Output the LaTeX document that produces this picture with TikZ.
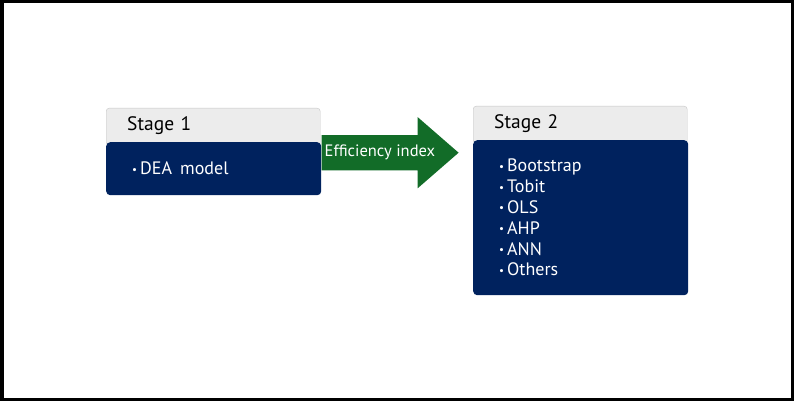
\documentclass[tikz,border=0pt]{standalone}
\usepackage{fontspec}
\setmainfont{PT Sans}
\usetikzlibrary{shapes.arrows}
\definecolor{navy}{RGB}{0,34,94}
\definecolor{headgray}{RGB}{236,236,236}
\definecolor{arrowgreen}{RGB}{18,108,40}
\newcommand{\itm}{{\fontsize{11}{11}\selectfont\raisebox{0.3ex}{\textbullet}}\,}

\begin{document}
\begin{tikzpicture}[x=1pt,y=-1pt,
	head/.style={draw=gray!45, fill=headgray, rounded corners=3pt, anchor=north west,
		minimum width=214pt, minimum height=37pt, inner xsep=21pt, text width=172pt,
		align=left, font=\fontsize{19.5}{20}\selectfont, text depth=6pt},
	body/.style={fill=navy, rounded corners=4pt, anchor=north west, text=white,
		minimum width=215pt, inner xsep=26pt, text width=163pt, align=left,
		font=\fontsize{18}{20.8}\selectfont},
	bigarrow/.style={single arrow, fill=arrowgreen, text=white, single arrow head extend=18pt,
		single arrow tip angle=82, minimum height=137pt, minimum width=71pt,
		inner xsep=2pt, inner ysep=0pt, text height=12pt, text depth=4pt,
		font=\fontsize{16.5}{18}\selectfont, anchor=tail}]
	\useasboundingbox (0,0) rectangle (794,401);
	\draw[line width=3.5pt] (1.75,1.75) rectangle (792.25,399.25);

	% stage 1
	\node[head] (h1) at (106,108) {Stage 1};
	\node[body, minimum height=53pt] (b1) at (106,142) {\itm DEA\hspace{0.45em}model};

	% stage 2
	\node[head] (h2) at (473,106) {Stage 2};
	\node[body, minimum height=155pt] (b2) at (473,140)
		{\itm Bootstrap\\ \itm Tobit\\ \itm OLS\\ \itm AHP\\ \itm ANN\\ \itm Others};

	% efficiency index
	\node[bigarrow, inner ysep=9.5pt] (ar) at ([yshift=16pt]b1.east) {Efficiency index};
\end{tikzpicture}
\end{document}
